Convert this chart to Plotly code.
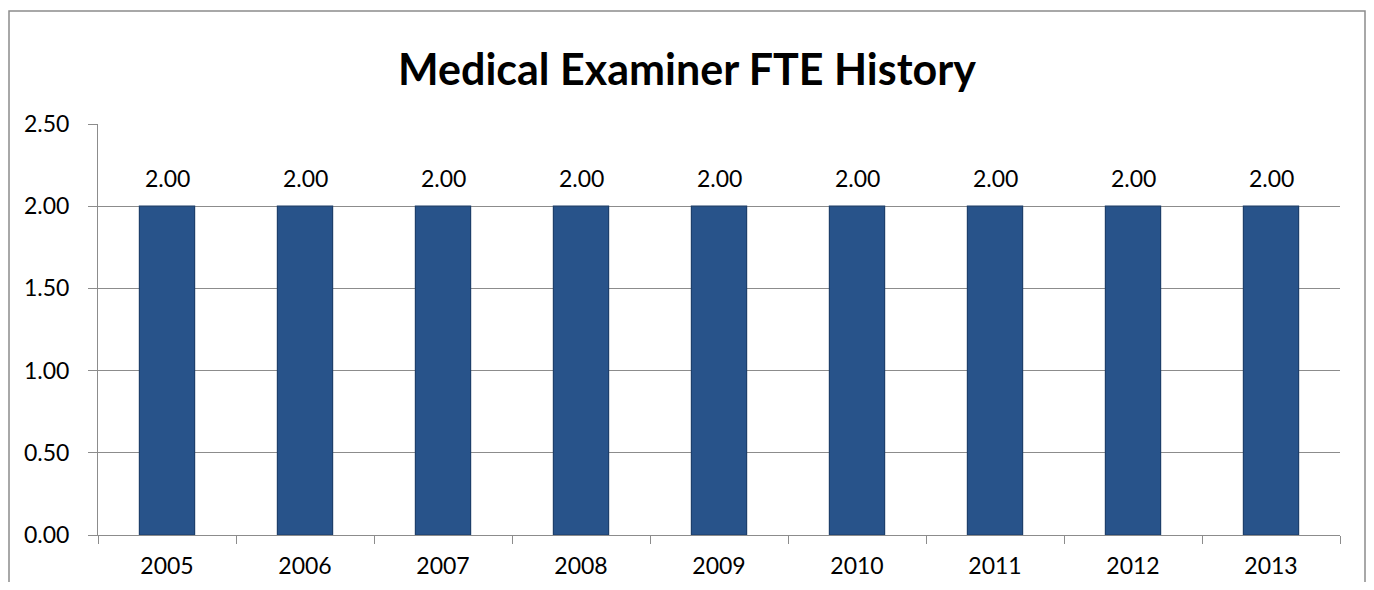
import plotly.graph_objects as go

years = ["2005", "2006", "2007", "2008", "2009", "2010", "2011", "2012", "2013"]
fte = [2.00, 2.00, 2.00, 2.00, 2.00, 2.00, 2.00, 2.00, 2.00]
y_ticks = [0.0, 0.5, 1.0, 1.5, 2.0, 2.5]

# page body has an 8px margin, so figure pixel coordinates are offset by 8
W, H = 1358, 574
L, R, T, B = 90, 26, 116, 47
pw, ph = W - L - R, H - T - B

def px_x(x):
    return (x - L) / pw

def px_y(y):
    return (H - B - y) / ph

FONT = "Lato, 'Open Sans', 'Liberation Sans', sans-serif"
GRAY = "#8C8C8C"

fig = go.Figure(go.Bar(
    x=years, y=fte, width=0.4,
    marker=dict(color="#28538A", line=dict(color="#1D3F6B", width=1.2)),
    hoverinfo="x+y",
))

# category axes place annotations by category index
annotations = [
    dict(x=i, y=v, xref="x", yref="y", text=f"{v:.2f}", showarrow=False,
         yanchor="bottom", yshift=12, font=dict(size=23, family=FONT, color="#000000"))
    for i, v in enumerate(fte)
]

fig.update_layout(
    width=W, height=H,
    margin=dict(l=L, r=R, t=T, b=B, autoexpand=False),
    paper_bgcolor="white", plot_bgcolor="white",
    showlegend=False,
    font=dict(family=FONT, size=23, color="#000000"),
    title=dict(text="<b>Medical Examiner FTE History</b>", x=0.5, xanchor="center",
               xref="container", y=1 - 62 / H, yanchor="middle",
               font=dict(size=43, family=FONT, color="#000000")),
    xaxis=dict(type="category", range=[-0.5, len(years) - 0.5],
               showline=True, linecolor=GRAY, linewidth=1,
               ticks="outside", tickson="boundaries", ticklen=8, tickcolor=GRAY,
               showgrid=False, tickfont=dict(size=23), ticklabelstandoff=10,
               tickangle=0, automargin=False),
    yaxis=dict(range=[0, 2.5], tickvals=y_ticks, tickformat=".2f",
               showline=True, linecolor=GRAY, linewidth=1,
               ticks="outside", ticklen=9, tickcolor=GRAY,
               showgrid=True, gridcolor=GRAY, gridwidth=1,
               zeroline=False, tickfont=dict(size=23), ticklabelstandoff=14,
               automargin=False),
    annotations=annotations,
    shapes=[dict(type="rect", xref="paper", yref="paper",
                 x0=px_x(1), x1=px_x(W - 1), y0=px_y(H + 5), y1=px_y(3),
                 line=dict(color=GRAY, width=1.5), fillcolor="rgba(0,0,0,0)",
                 layer="below")],
)

fig.write_html("out.html")
